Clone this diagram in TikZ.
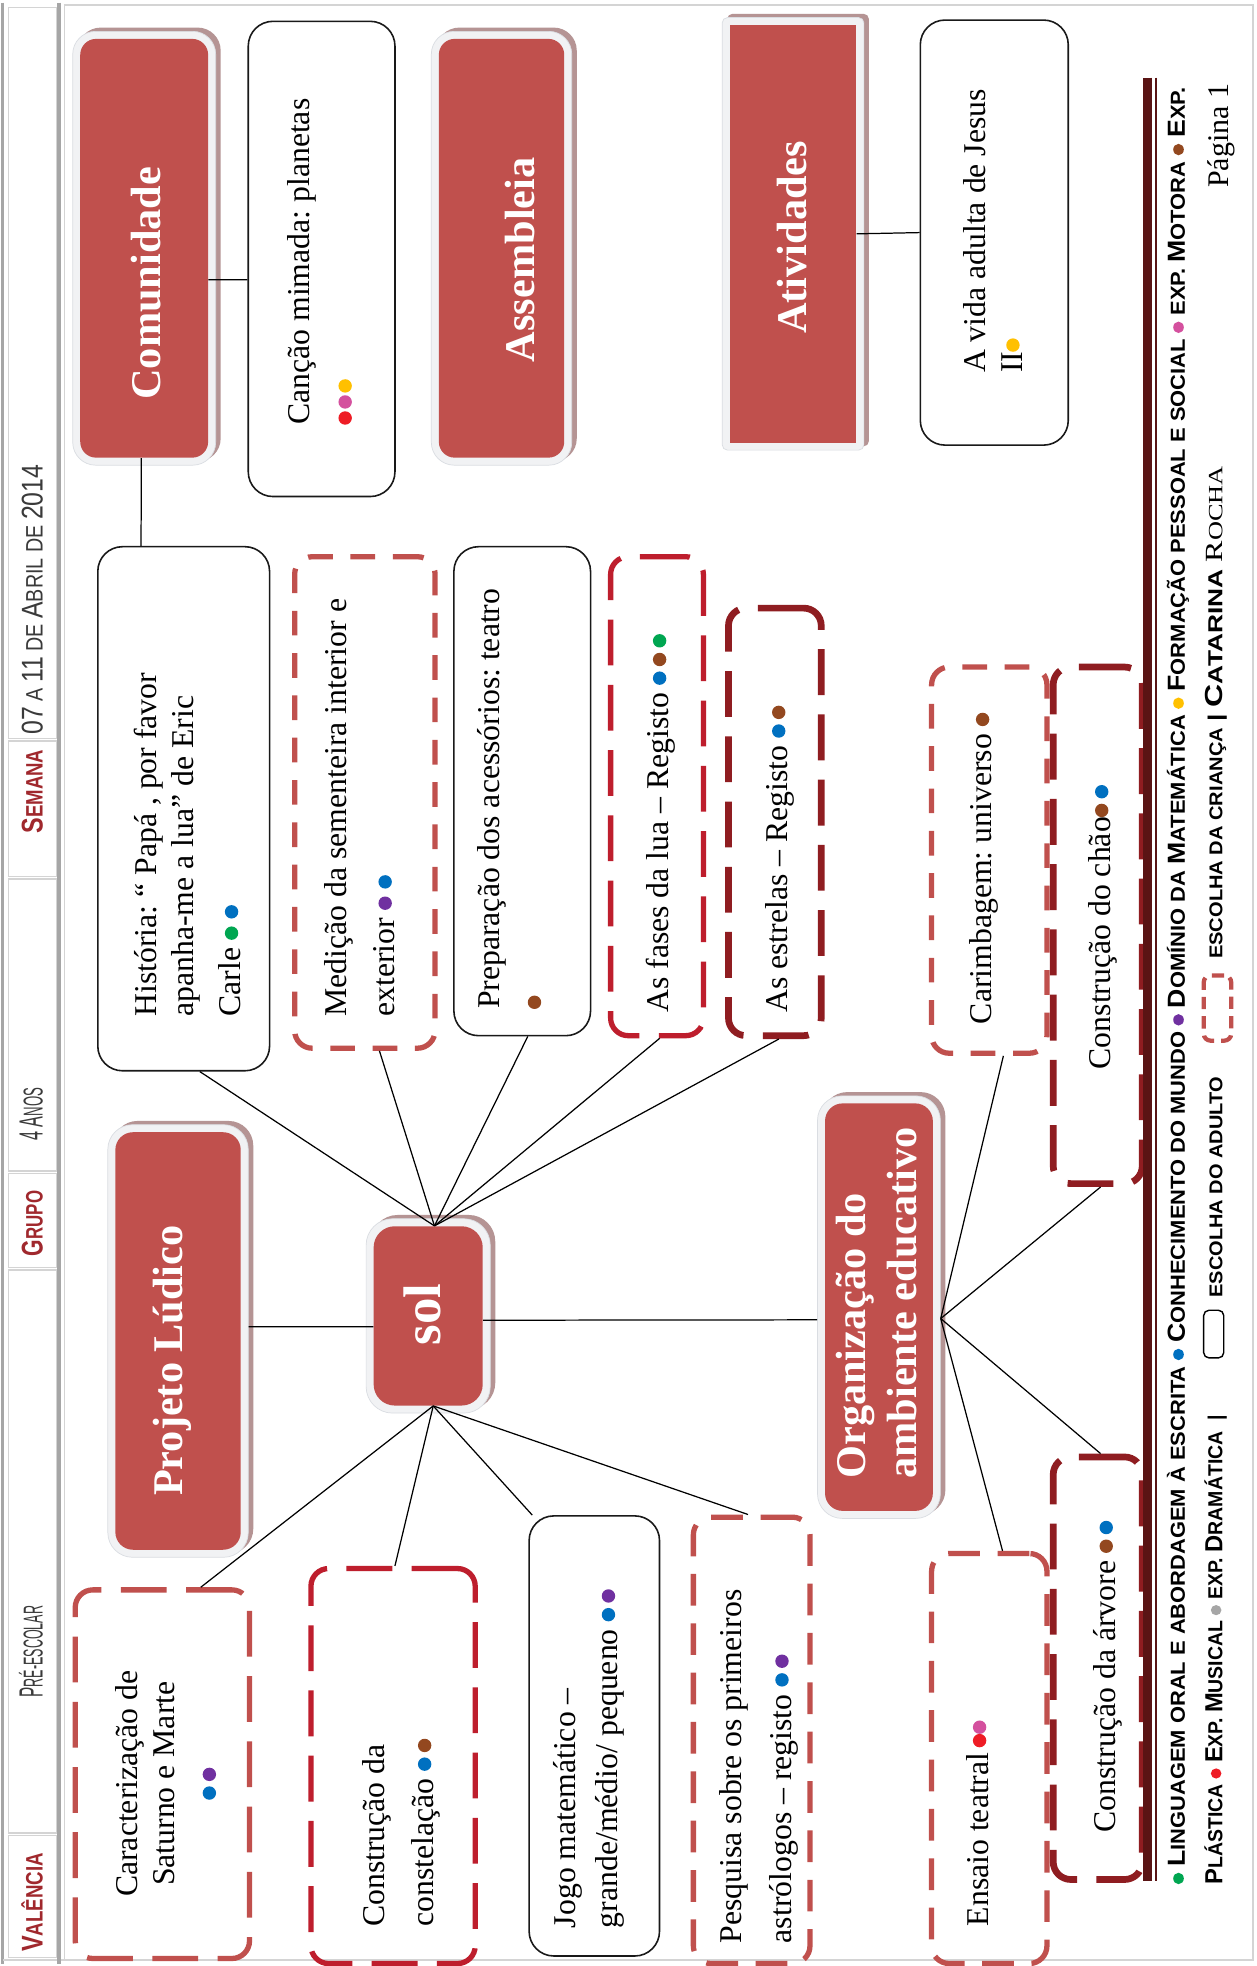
\documentclass[tikz,border=0pt]{standalone}
\usepackage{fontspec}
\usepackage{graphicx}
\setmainfont{Liberation Serif}
\newfontfamily\lsans{Liberation Sans}
\usetikzlibrary{calc,fit}
\frenchspacing
\definecolor{boxred}{HTML}{C0504D}
\definecolor{brightred}{HTML}{BE1E2D}
\definecolor{darkred}{HTML}{8F1D21}
\definecolor{legline}{HTML}{5A1414}
\definecolor{hdrred}{HTML}{A0282D}
\definecolor{hdrtext}{HTML}{3A3A3A}
\definecolor{framegrey}{HTML}{F1F2F4}
\definecolor{frameline}{HTML}{DADDE2}
\definecolor{shadowc}{HTML}{B59494}
\definecolor{bordergrey}{HTML}{A6A6A6}
\definecolor{lightline}{HTML}{D4D4D4}
\definecolor{dgreen}{HTML}{00A651}
\definecolor{dblue}{HTML}{0070C0}
\definecolor{dpurple}{HTML}{7030A0}
\definecolor{dyellow}{HTML}{FFC000}
\definecolor{dpink}{HTML}{D4509E}
\definecolor{dred}{HTML}{EE1C25}
\definecolor{dbrown}{HTML}{93481F}
\definecolor{dgrey}{HTML}{A6A6A6}
\newcommand\dt[1]{\tikz[baseline=-5.2pt]\fill[#1] (0,0) circle (3.8pt);}
\newcommand\ldt[1]{\tikz[baseline=-3.6pt]\fill[#1] (0,0) circle (3pt);}
\newcommand\BC[1]{{\fontsize{14}{14}\selectfont #1}}
\newcommand\BH[1]{{\fontsize{17}{17}\selectfont #1}}
\newcommand\BG[1]{{\fontsize{19}{19}\selectfont #1}}
\newcommand\fitw[2]{\resizebox{#1}{\height}{#2}}
\newcommand\redbox[7]{%
  \node[fill=shadowc, inner sep=0pt, rounded corners=#7, fit={({#2-6+4},{#3-6-3}) ({#4+6+4},{#5+6-3})}] (#1sh) {};
  \node[fill=framegrey, draw=frameline, line width=0.4pt, inner sep=0pt, rounded corners=#7, fit={({#2-6},{#3-6}) ({#4+6},{#5+6})}] (#1fr) {};
  \node[fill=boxred, inner sep=0pt, rounded corners=#6, fit={(#2,#3) (#4,#5)}] (#1) {};
}
\begin{document}
\frenchspacing
\begin{tikzpicture}[x=0.025cm, y=-0.025cm,
  conn/.style={draw=black, line width=0.7pt},
  solidbox/.style={draw=black!90, line width=0.9pt, rounded corners=14pt, inner sep=0pt},
  lightbox/.style={draw=boxred, line width=3pt, rounded corners=10pt, inner sep=0pt, dash pattern=on 14pt off 10pt},
  lightmedbox/.style={draw=boxred, line width=3pt, rounded corners=10pt, inner sep=0pt, dash pattern=on 18pt off 10pt},
  lightlongbox/.style={draw=boxred, line width=3pt, rounded corners=10pt, inner sep=0pt, dash pattern=on 26pt off 11pt},
  brightbox/.style={draw=brightred, line width=3pt, rounded corners=10pt, inner sep=0pt, dash pattern=on 26pt off 11pt},
  darkbox/.style={draw=darkred, line width=3.8pt, rounded corners=10pt, inner sep=0pt, dash pattern=on 26pt off 11pt},
  body/.style={rotate=90, anchor=base west, align=left, inner sep=0pt, font=\fontsize{18}{21}\selectfont},
  title/.style={rotate=90, anchor=base west, align=left, inner sep=0pt, text=white, font=\fontsize{24}{28}\selectfont\bfseries},
  legtext/.style={rotate=90, anchor=base west, inner sep=0pt}
]
\useasboundingbox (0,0) rectangle (1002,1568);
\begin{scope}
\clip (0,0) rectangle (1002,1568);
\fill[white] (0,0) rectangle (1002,1568);

% page frame
\draw[bordergrey, line width=1.2pt] (2,2) -- (2,1566);
\draw[lightline, line width=1.2pt] (51,4) -- (999,4) -- (999,1563) -- (2,1563);
% header column
\foreach \a/\b in {5/590, 590/700, 700/935, 935/1012, 1012/1463, 1463/1562}
  \draw[fill=white, draw=lightline, line width=0.8pt] (7,\a+1) rectangle (45,\b-1);
\draw[bordergrey, line width=2pt] (47,2) -- (47,1566);
\draw[lightline, line width=0.8pt] (51.5,4) -- (51.5,1563);

\node[legtext] (hval) at (34,1557) {\fitw{56pt}{\lsans\bfseries\color{hdrred}\fontsize{13.5}{13.5}\selectfont\BH{V}ALÊNCIA}};
\node[legtext] (hpre) at (34,1354) {\fitw{52pt}{\lsans\color{hdrtext}\fontsize{15.5}{15.5}\selectfont\BG{P}RÉ-ESCOLAR}};
\node[legtext] (hgrp) at (34,1002) {\fitw{37pt}{\lsans\bfseries\color{hdrred}\fontsize{13.5}{13.5}\selectfont\BH{G}RUPO}};
\node[legtext] (hanos) at (34,910) {\fitw{30pt}{\lsans\color{hdrtext}\fontsize{15.5}{15.5}\selectfont\BG{4 A}NOS}};
\node[legtext] (hsem) at (34,665) {\fitw{47.5pt}{\lsans\bfseries\color{hdrred}\fontsize{13.5}{13.5}\selectfont\BH{S}EMANA}};
\node[legtext] (hdate) at (34,586) {\fitw{153pt}{\lsans\color{hdrtext}\fontsize{13.5}{13.5}\selectfont\BH{07} A \BH{11} DE \BH{A}BRIL DE \BH{2014}}};

% boxes
\redbox{comun}{64}{31}{166}{365}{9pt}{13pt}
\node[solidbox, fit={(198,17) (315,396)}] (cancao) {};
\redbox{assemb}{350}{31}{450}{365}{9pt}{13pt}
\redbox{ativ}{582}{20}{683}{353}{0pt}{3pt}
\node[solidbox, fit={(734,16) (852,355)}] (vida) {};
\node[solidbox, fit={(78,436) (215,854)}] (hist) {};
\node[lightbox, fit={(235,444) (347,836)}] (medicao) {};
\node[solidbox, fit={(362,436) (471,826)}] (prep) {};
\node[brightbox, fit={(487,444) (561,826)}] (fases) {};
\node[darkbox, fit={(581,485) (655,826)}] (estrelas) {};
\node[lightbox, fit={(743,532) (835,840)}] (carimb) {};
\node[darkbox, fit={(840,532) (911,944)}] (chao) {};
\redbox{org}{658}{880}{744}{1205}{10pt}{14pt}
\redbox{proj}{92}{903}{192}{1236}{10pt}{14pt}
\redbox{sol}{298}{978}{385}{1121}{12pt}{15pt}
\node[lightlongbox, fit={(60,1268) (199,1562)}] (caract) {};
\node[brightbox, fit={(248,1251) (379,1566)}] (constel) {};
\node[solidbox, fit={(422,1209) (526,1560)}] (jogo) {};
\node[lightmedbox, fit={(553,1210) (646,1566)}] (pesq) {};
\node[lightmedbox, fit={(743,1239) (835,1566)}] (ensaio) {};
\node[darkbox, fit={(840,1162) (911,1499)}] (arvore) {};

% connectors
\draw[conn] ($(comun.north east)!0.575!(comun.south east)$) -- ($(cancao.north west)!0.5435!(cancao.south west)$);
\draw[conn] ($(comun.south west)!0.478!(comun.south east)$) -- ($(hist.north west)!0.254!(hist.north east)$);
\draw[conn] (ativ.east) -- (vida.west);
\draw[conn] ($(sol.north west)!0.557!(sol.north east)$) -- ($(hist.south west)!0.593!(hist.south east)$);
\draw[conn] ($(sol.north west)!0.557!(sol.north east)$) -- ($(medicao.south west)!0.6!(medicao.south east)$);
\draw[conn] ($(sol.north west)!0.557!(sol.north east)$) -- ($(prep.south west)!0.54!(prep.south east)$);
\draw[conn] ($(sol.north west)!0.557!(sol.north east)$) -- ($(fases.south west)!0.527!(fases.south east)$);
\draw[conn] ($(sol.north west)!0.557!(sol.north east)$) -- ($(estrelas.south west)!0.54!(estrelas.south east)$);
\draw[conn] ($(sol.south west)!0.546!(sol.south east)$) -- ($(caract.north west)!0.714!(caract.north east)$);
\draw[conn] ($(sol.south west)!0.546!(sol.south east)$) -- ($(constel.north west)!0.511!(constel.north east)$);
\draw[conn] ($(sol.south west)!0.546!(sol.south east)$) -- ($(jogo.north west)!0.03!(jogo.north east)$);
\draw[conn] ($(sol.south west)!0.546!(sol.south east)$) -- ($(pesq.north west)!0.47!(pesq.north east)$);
\draw[conn] ($(projfr.north east)!0.467!(projfr.south east)$) -- ($(sol.north west)!0.56!(sol.south west)$);
\draw[conn] ($(sol.north east)!0.524!(sol.south east)$) -- ($(orgfr.north west)!0.53!(orgfr.south west)$);
\draw[conn] ($(orgfr.north east)!0.527!(orgfr.south east)$) -- ($(carimb.south west)!0.617!(carimb.south east)$);
\draw[conn] ($(orgfr.north east)!0.527!(orgfr.south east)$) -- ($(chao.south west)!0.53!(chao.south east)$);
\draw[conn] ($(orgfr.north east)!0.527!(orgfr.south east)$) -- ($(ensaio.north west)!0.61!(ensaio.north east)$);
\draw[conn] ($(orgfr.north east)!0.527!(orgfr.south east)$) -- ($(arvore.north west)!0.53!(arvore.north east)$);

% titles
\node[title] (comunT) at (128,319) {Comunidade};
\node[title] (assembT) at (426,289) {Assembleia};
\node[title] (ativT) at (643,266.5) {Atividades};
\node[title] (projT) at (145.5,1193.4) {Projeto Lúdico};
\node[title, font=\fontsize{30}{30}\selectfont\bfseries] (solT) at (351,1073.4) {sol};
\node[title] (orgT) at (731,1179.5) {Organização do\\[1pt]ambiente educativo};

% body texts (anchor = baseline of the last line)
\node[body] (cancaoT) at (282.6,339) {Canção mimada: planetas\\[4.6pt]\dt{dred}\hspace{1.5pt}\dt{dpink}\hspace{1.5pt}\dt{dyellow}};
\node[body] (vidaT) at (815.2,297.7) {A vida adulta de Jesus\\II\dt{dyellow}};
\node[body] (histT) at (192,811) {História: “ Papá , por favor\\apanha-me a lua” de Eric\\[5.6pt]Carle \dt{dgreen} \dt{dblue}};
\node[body] (medicaoT) at (314.5,811) {Medição da sementeira interior e\\[6.3pt]exterior \dt{dpurple} \dt{dblue}};
\node[body] (prepT) at (433.6,805) {Preparação dos acessórios: teatro\\[3.8pt]\dt{dbrown}};
\node[body] (fasesT) at (533.4,808) {As fases da lua – Registo \dt{dblue}\,\dt{dbrown}\,\dt{dgreen}};
\node[body] (estrelasT) at (628.4,808) {As estrelas – Registo \dt{dblue}\,\dt{dbrown}};
\node[body] (carimbT) at (791,817) {Carimbagem: universo \dt{dbrown}};
\node[body] (chaoT) at (886,853) {Construção do chão\dt{dbrown}\,\dt{dblue}};
\node[body, anchor=base, align=center] (caractT) at (174.3,1422.6) {Caracterização de\\Saturno e Marte\\[3.7pt]\dt{dblue}\,\dt{dpurple}};
\node[body] (constelT) at (346,1537) {Construção da\\[7pt]constelação \dt{dblue}\,\dt{dbrown}};
\node[body] (jogoT) at (492.6,1538) {Jogo matemático –\\[2.8pt]grande/médio/ pequeno \dt{dblue}\,\dt{dpurple}};
\node[body] (pesqT) at (631,1550) {Pesquisa sobre os primeiros\\[7.4pt]astrólogos – registo \dt{dblue}\,\dt{dpurple}};
\node[body] (ensaioT) at (788.6,1536.5) {Ensaio teatral\,\dt{dred}\dt{dpink}};
\node[body] (arvoreT) at (889.6,1461.6) {Construção da árvore \dt{dbrown}\,\dt{dblue}};

% legend
\draw[legline, line width=5pt] (915,62) -- (915,1500);
\draw[legline, line width=1pt] (922,62) -- (922,1500);
\node[legtext] (leg1) at (945,1503) {\fitw{1019pt}{\lsans\bfseries\fontsize{11.5}{11.5}\selectfont \ldt{dgreen} \BC{L}INGUAGEM ORAL E ABORDAGEM À ESCRITA \ldt{dblue} \BC{C}ONHECIMENTO DO MUNDO \ldt{dpurple} \BC{D}OMÍNIO DA \BC{M}ATEMÁTICA \ldt{dyellow} \BC{F}ORMAÇÃO PESSOAL E SOCIAL \ldt{dpink} EXP. \BC{M}OTORA \ldt{dbrown} \BC{E}XP.}};
\node[legtext] (leg2a) at (975,1503) {\fitw{266pt}{\lsans\bfseries\fontsize{11.5}{11.5}\selectfont \BC{P}LÁSTICA \ldt{dred} \BC{E}XP. \BC{M}USICAL \ldt{dgrey} EXP. \BC{D}RAMÁTICA \ |}};
\node[draw=black, line width=0.8pt, rounded corners=3pt, inner sep=0pt, fit={(960,1045) (976,1083)}] (legsolid) {};
\node[legtext] (leg2b) at (975,1035) {\fitw{125pt}{\lsans\bfseries\fontsize{10.5}{10.5}\selectfont ESCOLHA DO ADULTO}};
\node[draw=boxred, line width=2.4pt, dash pattern=on 7pt off 4pt, rounded corners=4pt, inner sep=0pt, fit={(960,778) (982,830)}] (legdash) {};
\node[legtext] (leg2c) at (975,765) {\fitw{131pt}{\lsans\bfseries\fontsize{10.5}{10.5}\selectfont ESCOLHA DA CRIANÇA}};
\node[legtext] (leg2d) at (975,576) {\fitw{145pt}{\lsans\bfseries\fontsize{11.5}{11.5}\selectfont |\ \BC{C}ATARINA {\rmfamily\mdseries\BC{R}OCHA}}};
\node[rotate=90, anchor=base west, inner sep=0pt, font=\fontsize{17}{17}\selectfont] (pagina) at (980,150) {Página 1};
\end{scope}
\end{tikzpicture}
\end{document}
